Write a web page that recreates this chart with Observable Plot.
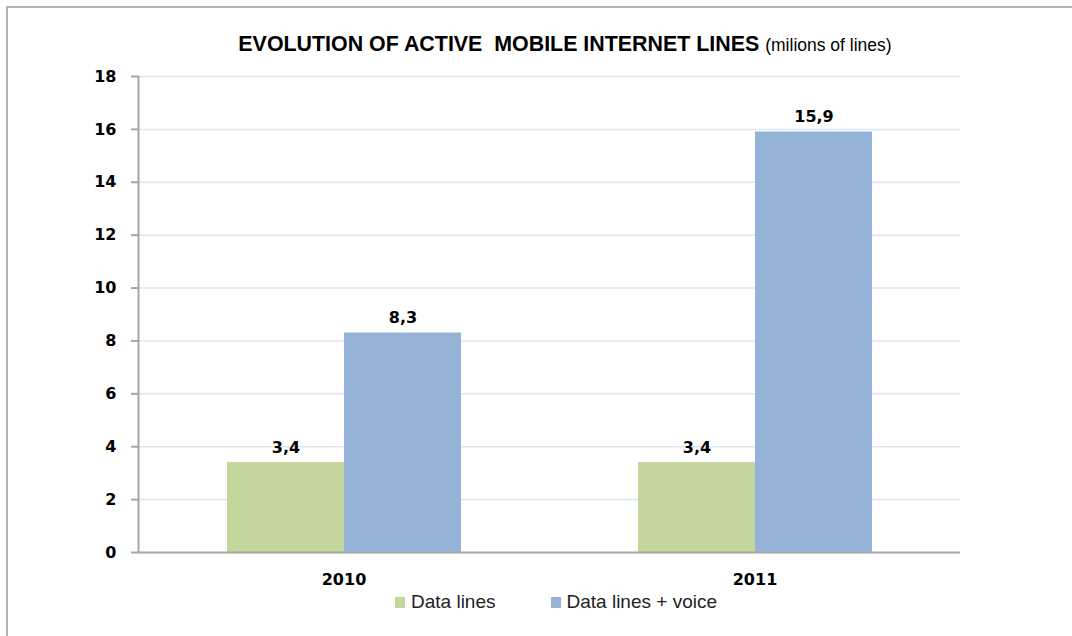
<!DOCTYPE html>
<html>
<head>
<meta charset="utf-8">
<script src="https://cdn.jsdelivr.net/npm/d3@7"></script>
<script src="https://cdn.jsdelivr.net/npm/@observablehq/plot@0.6"></script>
<style>
  html, body { margin: 0; padding: 0; background: #fff; width: 1072px; height: 636px; overflow: hidden; }
  #wrap { position: relative; width: 1072px; height: 636px; }
  #border { position: absolute; left: 6px; top: 6px; width: 1100px; height: 700px; border: 2px solid #b3b3b3; box-sizing: border-box; }
  #title { position: absolute; left: 0; width: 1130px; top: 32px; text-align: center; white-space: pre; font-family: "Liberation Sans", sans-serif; font-weight: bold; font-size: 21.4px; color: #000; }
  #title span { font-weight: normal; font-size: 17.5px; }
  #chart { position: absolute; left: 0; top: 0; }
  #legend { position: absolute; top: 591px; left: 395px; display: flex; align-items: center; font-family: "Liberation Sans", sans-serif; font-size: 19px; color: #222; }
  .sw { width: 10px; height: 11px; display: inline-block; margin-right: 6px; }
  .item { display: flex; align-items: center; margin-right: 55px; }
</style>
</head>
<body>
<div id="wrap">
  <div id="border"></div>
  <div id="chart"></div>
  <div id="title"></div>
  <div id="legend"></div>
</div>
<script>
const years = ["2010", "2011"];
const series = ["Data lines", "Data lines + voice"];
const dataLines = [3.4, 3.4];
const dataLinesVoice = [8.3, 15.9];
const colors = ["#c3d69b", "#95b3d7"];
const yTicks = [0, 2, 4, 6, 8, 10, 12, 14, 16, 18];
const titleMain = "EVOLUTION OF ACTIVE  MOBILE INTERNET LINES";
const titleSub = "(milions of lines)";

const rows = [];
years.forEach((y, i) => {
  rows.push({year: y, series: series[0], value: dataLines[i]});
  rows.push({year: y, series: series[1], value: dataLinesVoice[i]});
});

const fmt = v => String(v).replace(".", ",");

const chart = Plot.plot({
  width: 1072,
  height: 600,
  marginTop: 76,
  marginBottom: 48,
  marginLeft: 137,
  marginRight: 112,
  style: {background: "transparent", fontFamily: "'DejaVu Sans', Verdana, sans-serif"},
  fx: {domain: years, paddingInner: 0, paddingOuter: 0, label: null},
  x: {domain: series, paddingInner: 0, paddingOuter: 0.751, axis: null},
  y: {domain: [0, 18], label: null},
  color: {domain: series, range: colors},
  marks: [
    Plot.ruleY(yTicks.filter(d => d > 0), {stroke: "#dce6f2", strokeWidth: 1.5}),
    Plot.barY(rows, {fx: "year", x: "series", y: "value", fill: "series"}),
    Plot.text(rows, {fx: "year", x: "series", y: "value", text: d => fmt(d.value), lineAnchor: "bottom", dy: -10, fontWeight: "bold", fontSize: 16, fill: "#000"}),
    Plot.ruleY([0], {stroke: "#a6a6a6", strokeWidth: 2}),
    Plot.frame({anchor: "left", facetAnchor: "left", stroke: "#a6a6a6", strokeWidth: 2}),
    Plot.axisY({ticks: yTicks, tickSize: 7, tickPadding: 15, stroke: "#a6a6a6", strokeWidth: 2, fontWeight: "bold", fontSize: 16, fill: "#000", label: null, tickFormat: d => String(d)}),
    Plot.axisFx({anchor: "bottom", tickSize: 0, tickPadding: 21, fontWeight: "bold", fontSize: 16, fill: "#000", label: null})
  ]
});
document.getElementById("chart").appendChild(chart);

const t = document.getElementById("title");
t.textContent = titleMain + " ";
const s = document.createElement("span");
s.textContent = titleSub;
t.appendChild(s);

const lg = document.getElementById("legend");
series.forEach((name, i) => {
  const it = document.createElement("div");
  it.className = "item";
  const sw = document.createElement("span");
  sw.className = "sw";
  sw.style.background = colors[i];
  it.appendChild(sw);
  it.appendChild(document.createTextNode(name));
  lg.appendChild(it);
});
</script>
</body>
</html>
